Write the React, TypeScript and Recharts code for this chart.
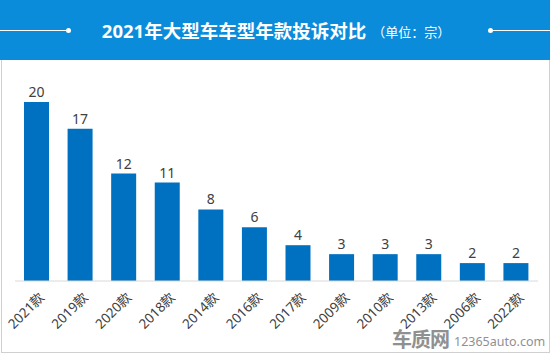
import { BarChart, Bar, XAxis, YAxis, LabelList } from 'recharts';

const years = ['2021款', '2019款', '2020款', '2018款', '2014款', '2016款', '2017款', '2009款', '2010款', '2013款', '2006款', '2022款'];
const complaints = [20, 17, 12, 11, 8, 6, 4, 3, 3, 3, 2, 2];

const data = years.map((year, i) => ({ year, count: complaints[i] }));

const FONT = "'Noto Sans', 'Noto Sans CJK SC', sans-serif";

const RotatedTick = ({ x, y, payload }: any) => (
  <g transform={`translate(${x + 5},${y + 6})`}>
    <text
      x={0}
      y={0}
      dy="0.35em"
      textAnchor="end"
      transform="rotate(-45)"
      fontSize={13.5}
      fill="#404040"
      fontFamily={FONT}
    >
      {payload.value}
    </text>
  </g>
);

export default function App() {
  return (
    <div style={{ position: 'absolute', left: 0, top: 0, width: 550, height: 356, background: '#fff', fontFamily: FONT }}>
      {/* header */}
      <div style={{ position: 'absolute', left: 0, top: 0, width: 550, height: 60, background: '#0b8cdb' }}>
        <div style={{ position: 'absolute', left: 0, top: 30, width: 68, height: 1, background: '#fff' }} />
        <div style={{ position: 'absolute', left: 66, top: 28, width: 5, height: 5, borderRadius: 3, background: '#fff' }} />
        <div style={{ position: 'absolute', left: 488, top: 28, width: 5, height: 5, borderRadius: 3, background: '#fff' }} />
        <div style={{ position: 'absolute', left: 490, top: 30, width: 60, height: 1, background: '#fff' }} />
        <div style={{ position: 'absolute', left: 0, top: 0, width: 550, height: 60, display: 'flex', alignItems: 'center', justifyContent: 'center', color: '#fff' }}>
          <span style={{ fontSize: 18.5, fontWeight: 700, marginLeft: 2 }}>2021年大型车车型年款投诉对比</span>
          <span style={{ fontSize: 13, marginLeft: 6, marginTop: 2 }}>（单位：宗）</span>
        </div>
      </div>
      {/* frame */}
      <div style={{ position: 'absolute', left: 1, top: 60, width: 547, height: 292, borderLeft: '1px solid #d0d0d0', borderRight: '1px solid #d0d0d0', borderBottom: '1px solid #d0d0d0' }} />
      <div style={{ position: 'absolute', left: 0, top: 0 }}>
        <BarChart width={550} height={356} data={data} margin={{ top: 102, right: 12, left: 15, bottom: 0 }}>
          <XAxis
            dataKey="year"
            interval={0}
            height={75}
            tickLine={false}
            axisLine={{ stroke: '#d9d9d9' }}
            tick={<RotatedTick />}
          />
          <YAxis hide domain={[0, 20]} />
          <Bar dataKey="count" fill="#0070c0" barSize={25} isAnimationActive={false}>
            <LabelList dataKey="count" position="top" offset={5} fontSize={14} fill="#404040" fontFamily={FONT} />
          </Bar>
        </BarChart>
      </div>
      {/* watermark */}
      <div style={{ position: 'absolute', left: 392, top: 329, display: 'flex', alignItems: 'flex-end', color: '#909090' }}>
        <span style={{ fontSize: 20, fontWeight: 700, letterSpacing: -1, lineHeight: '22px' }}>车质网</span>
        <span style={{ fontSize: 12.5, marginLeft: 5, lineHeight: '18px' }}>12365auto.com</span>
      </div>
    </div>
  );
}
